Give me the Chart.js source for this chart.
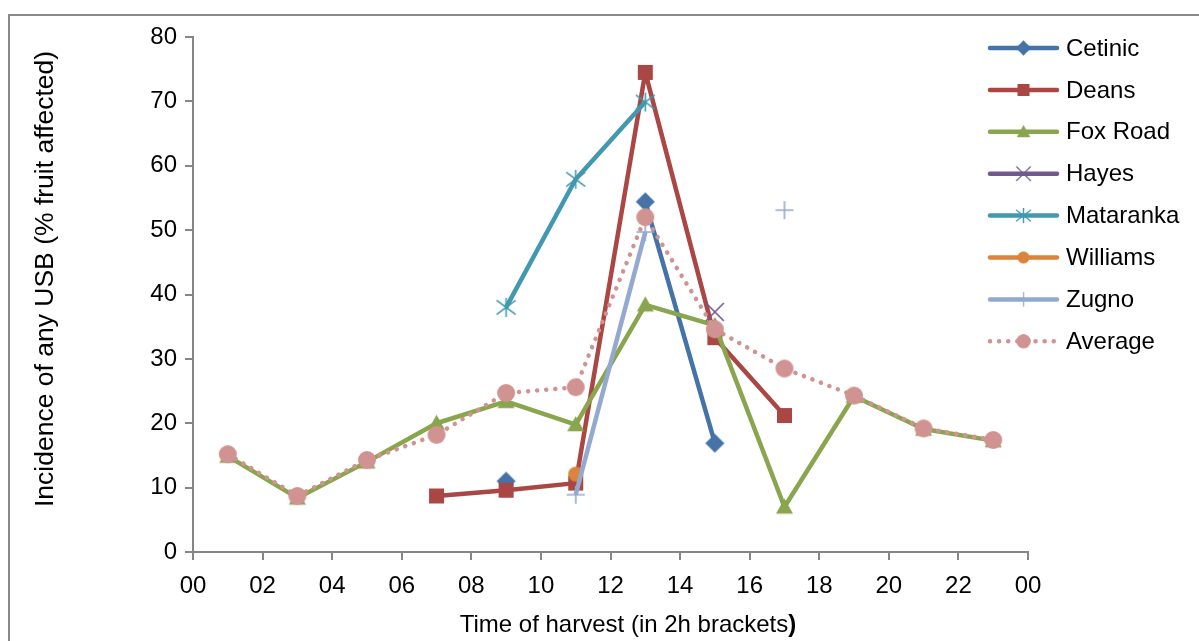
<!DOCTYPE html>
<html lang="en">
  <head>
    <meta charset="UTF-8" />
    <title>Incidence of USB by time of harvest</title>
    <script src="https://cdn.jsdelivr.net/npm/chart.js"></script>
    <style>
      body {
        margin: 0;
        background: #fff;
      }
      canvas {
        display: block;
      }
    </style>
  </head>
  <body>
    <canvas id="grafico" width="1199" height="641"></canvas>

    <script>
      // dados (hora central de cada faixa de 2h)
      const hours = [1, 3, 5, 7, 9, 11, 13, 15, 17, 19, 21, 23];
      const xTicks = ["00", "02", "04", "06", "08", "10", "12", "14", "16", "18", "20", "22", "00"];

      const cetinic = [null, null, null, null, 11.0, null, 54.4, 16.9, null, null, null, null];
      const deans = [null, null, null, 8.7, 9.6, 10.7, 74.5, 33.3, 21.2, null, null, null];
      const foxRoad = [14.9, 8.4, 14.0, 20.0, 23.4, 19.8, 38.4, 35.2, 7.0, 24.2, 19.1, 17.3];
      const hayes = [null, null, null, null, null, null, null, 37.3, null, null, null, null];
      const mataranka = [null, null, null, null, 38.0, 57.9, 69.9, null, null, null, null, null];
      const williams = [null, null, null, null, null, 12.1, null, null, null, null, null, null];
      const zugno = [null, null, null, null, null, 8.9, 49.7, null, 53.1, null, null, null];
      const average = [15.2, 8.7, 14.3, 18.2, 24.7, 25.6, 52.0, 34.6, 28.5, 24.3, 19.2, 17.4];

      const FONT = '"Liberation Sans", Arial, sans-serif';

      // marcadores desenhados em canvas pequenos
      function marcador(tipo, cor, r) {
        const s = Math.ceil(r * 2 + 4);
        const c = document.createElement("canvas");
        c.width = s;
        c.height = s;
        const g = c.getContext("2d");
        const m = s / 2;
        g.fillStyle = cor;
        g.strokeStyle = cor;
        g.lineWidth = 1.6;
        g.beginPath();
        if (tipo === "diamond") {
          g.moveTo(m, m - r);
          g.lineTo(m + r, m);
          g.lineTo(m, m + r);
          g.lineTo(m - r, m);
          g.closePath();
          g.fill();
        } else if (tipo === "square") {
          g.rect(m - r, m - r, 2 * r, 2 * r);
          g.fill();
        } else if (tipo === "triangle") {
          g.moveTo(m, m - r);
          g.lineTo(m + r, m + r * 0.8);
          g.lineTo(m - r, m + r * 0.8);
          g.closePath();
          g.fill();
        } else if (tipo === "circle") {
          g.arc(m, m, r, 0, Math.PI * 2);
          g.fill();
        } else if (tipo === "x") {
          g.moveTo(m - r, m - r);
          g.lineTo(m + r, m + r);
          g.moveTo(m + r, m - r);
          g.lineTo(m - r, m + r);
          g.stroke();
        } else if (tipo === "star") {
          g.moveTo(m - r, m - r * 0.75);
          g.lineTo(m + r, m + r * 0.75);
          g.moveTo(m + r, m - r * 0.75);
          g.lineTo(m - r, m + r * 0.75);
          g.moveTo(m, m - r);
          g.lineTo(m, m + r);
          g.stroke();
        } else if (tipo === "plus") {
          g.moveTo(m - r, m);
          g.lineTo(m + r, m);
          g.moveTo(m, m - r);
          g.lineTo(m, m + r);
          g.stroke();
        }
        return c;
      }

      const series = [
        { label: "Cetinic", data: cetinic, cor: "#4572A7", m: marcador("diamond", "#4572A7", 9.5) },
        { label: "Deans", data: deans, cor: "#AA4643", m: marcador("square", "#AA4643", 7.5) },
        { label: "Fox Road", data: foxRoad, cor: "#89A54E", m: marcador("triangle", "#89A54E", 8.5) },
        { label: "Hayes", data: hayes, cor: "#71588F", m: marcador("x", "#71588F", 9) },
        { label: "Mataranka", data: mataranka, cor: "#4198AF", m: marcador("star", "#4198AF", 9.5) },
        { label: "Williams", data: williams, cor: "#DB843D", m: marcador("circle", "#DB843D", 7.5) },
        { label: "Zugno", data: zugno, cor: "#93A9CF", m: marcador("plus", "#93A9CF", 9) },
        { label: "Average", data: average, cor: "#D19392", m: marcador("circle", "#D19392", 9), dotted: true },
      ];

      const datasets = series.map((s, i) => ({
        label: s.label,
        data: s.data.map((v, k) => ({ x: hours[k], y: v })),
        borderColor: s.cor,
        backgroundColor: s.cor,
        borderWidth: 4.5,
        borderDash: s.dotted ? [0.1, 9] : [],
        borderCapStyle: s.dotted ? "round" : "butt",
        borderJoinStyle: "round",
        pointStyle: s.m,
        pointRadius: 10,
        spanGaps: false,
        tension: 0,
        order: 20 - i,
      }));

      // moldura, títulos dos eixos e legenda
      const extras = {
        id: "extras",
        afterDraw(chart) {
          const ctx = chart.ctx;
          ctx.save();
          ctx.strokeStyle = "#8a8a8a";
          ctx.lineWidth = 2;
          ctx.beginPath();
          ctx.moveTo(9, 641);
          ctx.lineTo(9, 15);
          ctx.lineTo(1199, 15);
          ctx.stroke();

          ctx.fillStyle = "#000";
          ctx.textBaseline = "alphabetic";
          // título eixo x com ")" em negrito
          const t1 = "Time of harvest (in 2h brackets";
          ctx.font = "24px " + FONT;
          const w1 = ctx.measureText(t1).width;
          ctx.font = "bold 24px " + FONT;
          const w2 = ctx.measureText(")").width;
          let x0 = 628 - (w1 + w2) / 2;
          ctx.font = "24px " + FONT;
          ctx.textAlign = "left";
          ctx.fillText(t1, x0, 632);
          ctx.font = "bold 24px " + FONT;
          ctx.fillText(")", x0 + w1, 632);

          // título eixo y
          ctx.font = "26.5px " + FONT;
          ctx.translate(53, 279);
          ctx.rotate(-Math.PI / 2);
          ctx.textAlign = "center";
          ctx.fillText("Incidence of any USB (% fruit affected)", 0, 0);
          ctx.restore();

          // legenda
          ctx.save();
          series.forEach((s, i) => {
            const y = 48 + i * 41.9;
            ctx.strokeStyle = s.cor;
            ctx.lineWidth = 4.5;
            ctx.lineCap = "round";
            ctx.setLineDash(s.dotted ? [0.1, 9] : []);
            ctx.beginPath();
            ctx.moveTo(990, y);
            ctx.lineTo(1057, y);
            ctx.stroke();
            ctx.setLineDash([]);
            const w = s.m.width * 0.8;
            ctx.drawImage(s.m, 1023.5 - w / 2, y - w / 2, w, w);
            ctx.fillStyle = "#000";
            ctx.font = "24px " + FONT;
            ctx.textAlign = "left";
            ctx.textBaseline = "middle";
            ctx.fillText(s.label, 1066, y + 1);
          });
          ctx.restore();
        },
      };

      new Chart(document.getElementById("grafico"), {
        type: "line",
        data: { datasets: datasets },
        options: {
          responsive: false,
          animation: false,
          events: [],
          layout: { padding: { left: 0, top: 37, right: 171, bottom: 0 } },
          plugins: {
            legend: { display: false },
            tooltip: { enabled: false },
          },
          scales: {
            x: {
              type: "linear",
              min: 0,
              max: 24,
              afterFit: (s) => {
                s.height = 89;
              },
              afterBuildTicks: (s) => {
                s.ticks = xTicks.map((t, i) => ({ value: i * 2 }));
              },
              ticks: {
                autoSkip: false,
                maxRotation: 0,
                color: "#000",
                font: { size: 24, family: FONT },
                padding: 12,
                callback: (v, i) => xTicks[i],
              },
              grid: {
                drawOnChartArea: false,
                drawTicks: true,
                tickLength: 8,
                color: "#868686",
                lineWidth: 2,
              },
              border: { color: "#868686", width: 2 },
            },
            y: {
              min: 0,
              max: 80,
              afterFit: (s) => {
                s.width = 193;
              },
              ticks: {
                stepSize: 10,
                color: "#000",
                font: { size: 24, family: FONT },
                padding: 8,
              },
              grid: {
                drawOnChartArea: false,
                drawTicks: true,
                tickLength: 8,
                color: "#868686",
                lineWidth: 2,
              },
              border: { color: "#868686", width: 2 },
            },
          },
        },
        plugins: [extras],
      });
    </script>
  </body>
</html>
